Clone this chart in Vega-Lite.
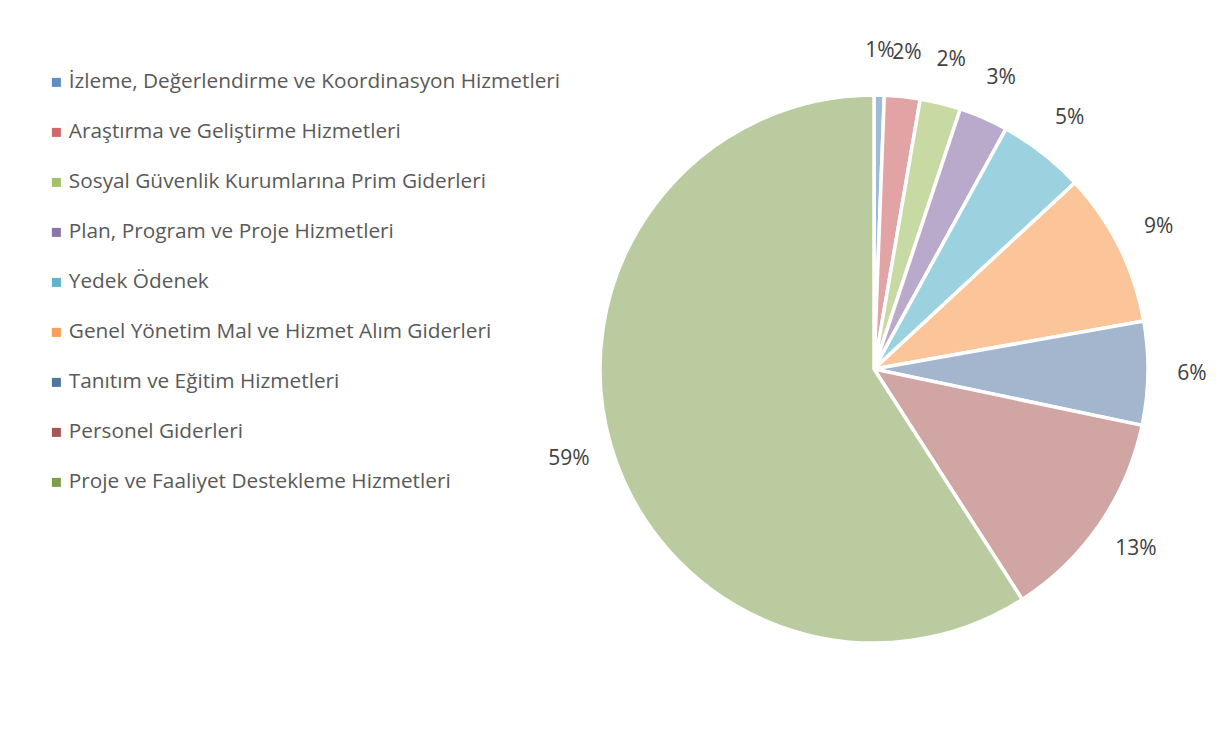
{
  "$schema": "https://vega.github.io/schema/vega-lite/v6.json",
  "autosize": {"type": "none"},
  "width": 548,
  "height": 548,
  "padding": {"left": 600, "top": 95, "right": 69, "bottom": 90},
  "background": "white",
  "config": {"view": {"stroke": null}, "font": "Open Sans"},
  "data": {
    "values": [
      {"idx": 1, "kalem": "İzleme, Değerlendirme ve Koordinasyon Hizmetleri", "pay": 0.006},
      {"idx": 2, "kalem": "Araştırma ve Geliştirme Hizmetleri", "pay": 0.021},
      {"idx": 3, "kalem": "Sosyal Güvenlik Kurumlarına Prim Giderleri", "pay": 0.024},
      {"idx": 4, "kalem": "Plan, Program ve Proje Hizmetleri", "pay": 0.029},
      {"idx": 5, "kalem": "Yedek Ödenek", "pay": 0.051},
      {"idx": 6, "kalem": "Genel Yönetim Mal ve Hizmet Alım Giderleri", "pay": 0.091},
      {"idx": 7, "kalem": "Tanıtım ve Eğitim Hizmetleri", "pay": 0.061},
      {"idx": 8, "kalem": "Personel Giderleri", "pay": 0.126},
      {"idx": 9, "kalem": "Proje ve Faaliyet Destekleme Hizmetleri", "pay": 0.591}
    ]
  },
  "encoding": {
    "theta": {"field": "pay", "type": "quantitative", "stack": true},
    "order": {"field": "idx", "type": "quantitative"},
    "color": {
      "field": "kalem",
      "type": "nominal",
      "scale": {
        "domain": [
          "İzleme, Değerlendirme ve Koordinasyon Hizmetleri",
          "Araştırma ve Geliştirme Hizmetleri",
          "Sosyal Güvenlik Kurumlarına Prim Giderleri",
          "Plan, Program ve Proje Hizmetleri",
          "Yedek Ödenek",
          "Genel Yönetim Mal ve Hizmet Alım Giderleri",
          "Tanıtım ve Eğitim Hizmetleri",
          "Personel Giderleri",
          "Proje ve Faaliyet Destekleme Hizmetleri"
        ],
        "range": ["#4F81BD", "#C9585A", "#9BBB59", "#8064A2", "#4BACC6", "#F79646", "#3E6699", "#9C4240", "#6F9236"]
      },
      "legend": {
        "title": null,
        "orient": "none",
        "legendX": -554,
        "legendY": -23,
        "symbolType": "square",
        "symbolSize": 81,
        "symbolStrokeWidth": 0,
        "symbolOpacity": 0.9,
        "labelFont": "Open Sans",
        "labelFontSize": 20.8,
        "labelColor": "#595959",
        "labelOffset": 2,
        "labelLimit": 700,
        "rowPadding": 28
      }
    }
  },
  "layer": [
    {
      "mark": {"type": "arc", "stroke": "white", "strokeWidth": 3.5},
      "encoding": {
        "fillOpacity": {"condition": {"test": "datum.idx >= 7", "value": 0.48}, "value": 0.55}
      }
    },
    {
      "mark": {"type": "text", "radius": 318, "font": "Open Sans", "fontSize": 21, "fill": "#404040"},
      "encoding": {
        "text": {"field": "pay", "type": "quantitative", "format": ".0%"},
        "color": {"value": "#404040"}
      }
    }
  ]
}
